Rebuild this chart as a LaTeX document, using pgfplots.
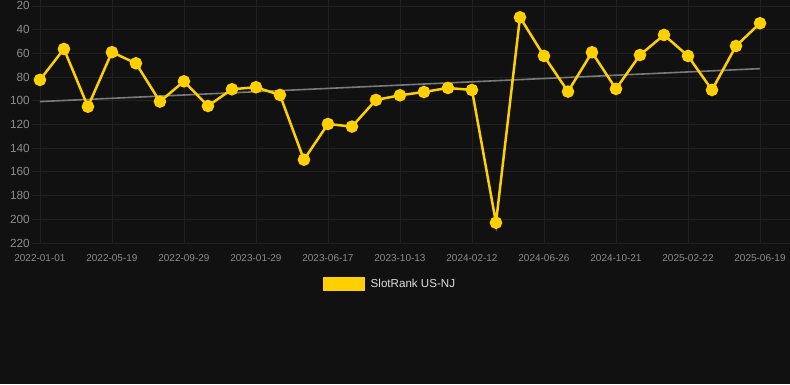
\documentclass[border=0pt]{standalone}
\usepackage{fontspec}
\setmainfont{Liberation Sans}
\usepackage{pgfplots}
\pgfplotsset{compat=1.18}
\definecolor{bg}{HTML}{111111}
\definecolor{gridc}{HTML}{222222}
\definecolor{ylw}{HTML}{FFD000}
\definecolor{trend}{HTML}{7A7A7A}
\definecolor{tickc}{HTML}{8C8C8C}
\definecolor{legc}{HTML}{DDDDDD}
\begin{document}
\begin{tikzpicture}[x=1pt,y=1pt]
\fill[bg] (0,0) rectangle (790,384);
\useasboundingbox (0,0) rectangle (790,384);
\begin{axis}[
  at={(32pt,141pt)}, anchor=south west,
  scale only axis, width=758pt, height=243pt,
  xmin=-0.33, xmax=31.25,
  ymin=15, ymax=220, y dir=reverse,
  axis line style={draw=none},
  xtick={0,3,...,30},
  xticklabels={2022-01-01,2022-05-19,2022-09-29,2023-01-29,2023-06-17,2023-10-13,2024-02-12,2024-06-26,2024-10-21,2025-02-22,2025-06-19},
  ytick={20,40,...,220},
  grid=major,
  major grid style={draw=gridc, line width=0.8pt},
  major tick length=0pt,
  /pgf/number format/assume math mode=true,
  xticklabel style={font=\fontsize{10}{12}\selectfont, text=tickc, inner sep=0pt, anchor=north, yshift=-11pt},
  yticklabel style={font=\fontsize{11.8}{13}\selectfont, text=tickc, inner sep=0pt, anchor=east, xshift=-2pt},
  legend style={at={(0.3839,-0.1687)}, anchor=west, draw=none, fill=none, inner sep=0pt,
    nodes={inner sep=0pt, text=legc}, font=\fontsize{11.6}{14}\selectfont,
    /tikz/every odd column/.append style={column sep=6pt}},
  clip=false,
]
\addplot[trend, line width=1.6pt, forget plot] coordinates {(0,100.7) (30,72.9)};
\addplot[ylw, line width=2.5pt, mark=*, mark size=5pt, mark options={solid, fill=ylw, draw=none},
  legend image code/.code={\fill[ylw] (0pt,-5.5pt) rectangle (39pt,5.5pt);}]
coordinates {
(0,82.4) (1,56.3) (2,105) (3,59) (4,68.4) (5,100.7) (6,83.6) (7,104.4) (8,90.3) (9,88.6)
(10,95.1) (11,149.7) (12,119.6) (13,121.8) (14,99.3) (15,95.4) (16,92.6) (17,89.2) (18,90.9) (19,202.9)
(20,29.6) (21,62.2) (22,92.3) (23,59.1) (24,90.0) (25,61.4) (26,44.5) (27,62.2) (28,90.9) (29,53.8) (30,34.6)
};
\addlegendentry{SlotRank US-NJ}
\end{axis}
\end{tikzpicture}
\end{document}
